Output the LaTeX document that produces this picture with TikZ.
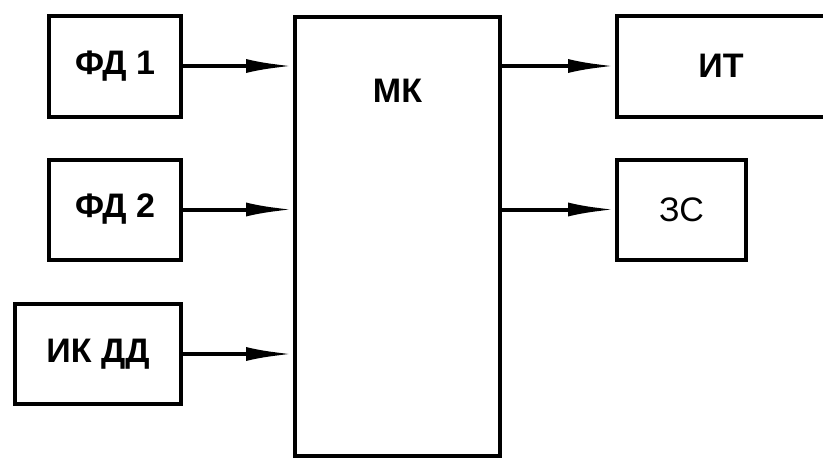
\documentclass[tikz,border=0pt]{standalone}
\usepackage{fontspec}
\setmainfont{Liberation Sans}
\usetikzlibrary{positioning, arrows.meta}

\tikzset{
  blk/.style={draw, line width=4pt, inner sep=0pt, font=\fontsize{34}{38}\selectfont\bfseries},
  arr/.style={line width=4pt, -{Latex[length=47pt,width=14pt]}}
}

\begin{document}
\begin{tikzpicture}[x=1pt, y=-1pt]
      % Frame
      \useasboundingbox (0,0) rectangle (823,461);
      \clip (0,0) rectangle (823,461);

      % Sensors
      \node[blk, minimum width=132pt, minimum height=101pt] (fd1) at (115,66) {ФД 1};
      \node[blk, minimum width=132pt, minimum height=100pt] (fd2) at (115,209.5) {ФД 2};
      \node[blk, minimum width=166pt, minimum height=100pt] (ikdd) at (98,354) {ИК ДД};

      % Microcontroller
      \node[blk, minimum width=205pt, minimum height=439pt] (mk) at (397.5,236.5) {};
      \node[font=\fontsize{34}{38}\selectfont\bfseries] (mktxt) at (397.5,91) {МК};

      % Outputs
      \node[blk, minimum width=208pt, minimum height=101pt] (it) at (721,66) {ИТ};
      \node[blk, font=\fontsize{34}{38}\selectfont, minimum width=129pt, minimum height=100pt] (zs) at (681.5,209.5) {ЗС};

      % Links
      \draw[arr] (fd1.east) -- (fd1.east -| mk.west);
      \draw[arr] (fd2.east) -- (fd2.east -| mk.west);
      \draw[arr] (ikdd.east) -- (ikdd.east -| mk.west);
      \draw[arr] (it.west -| mk.east) -- (it.west);
      \draw[arr] (zs.west -| mk.east) -- (zs.west);
\end{tikzpicture}
\end{document}
